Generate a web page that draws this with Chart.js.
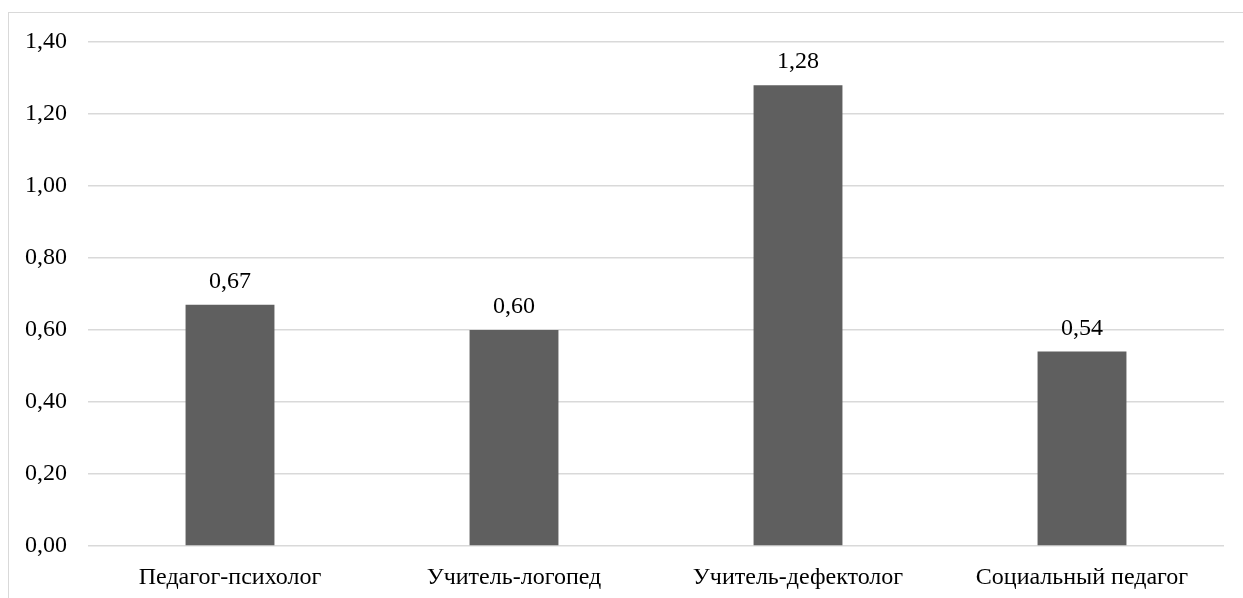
<!DOCTYPE html>
<html>
<head>
<meta charset="utf-8">
<script src="https://cdn.jsdelivr.net/npm/chart.js@4"></script>
<style>
  html, body { margin: 0; padding: 0; background: #fff; }
  #wrap { position: relative; width: 1243px; height: 598px; overflow: hidden; }
  #frame { position: absolute; left: 8px; top: 12px; width: 1400px; height: 700px; border-left: 1.5px solid #d9d9d9; border-top: 1.5px solid #d9d9d9; }
  canvas { position: absolute; left: 0; top: 0; }
</style>
</head>
<body>
<div id="wrap">
  <div id="frame"></div>
  <canvas id="c" width="1243" height="598"></canvas>
</div>
<script>
const categories = ["Педагог-психолог", "Учитель-логопед", "Учитель-дефектолог", "Социальный педагог"];
const values = [0.67, 0.60, 1.28, 0.54];
const yMin = 0, yMax = 1.4, yStep = 0.2;

const fmt = v => v.toFixed(2).replace('.', ',');
const FONT = "'Liberation Serif', 'Times New Roman', serif";

const valueLabels = {
  id: 'valueLabels',
  afterDatasetsDraw(chart) {
    const ctx = chart.ctx;
    const meta = chart.getDatasetMeta(0);
    ctx.save();
    ctx.font = "24px " + FONT;
    ctx.fillStyle = '#000';
    ctx.textAlign = 'center';
    ctx.textBaseline = 'alphabetic';
    meta.data.forEach((bar, i) => {
      ctx.fillText(fmt(values[i]), bar.x, bar.y - 17);
    });
    ctx.restore();
  }
};

new Chart(document.getElementById('c'), {
  type: 'bar',
  data: {
    labels: categories,
    datasets: [{
      data: values,
      backgroundColor: '#5f5f5f',
      borderWidth: 0,
      categoryPercentage: 1,
      barPercentage: 0.313
    }]
  },
  options: {
    responsive: false,
    animation: false,
    devicePixelRatio: 1,
    layout: { padding: { left: 0, right: 19, top: 42, bottom: 0 } },
    plugins: { legend: { display: false }, tooltip: { enabled: false } },
    scales: {
      x: {
        grid: { display: false },
        border: { display: false },
        ticks: { color: '#000', font: { family: FONT, size: 24 }, padding: 9, maxRotation: 0 },
        afterFit(s) { s.height = 52; }
      },
      y: {
        min: yMin, max: yMax,
        grid: { color: '#d9d9d9', lineWidth: 1.5, drawTicks: false },
        border: { display: false },
        ticks: { stepSize: yStep, color: '#000', font: { family: FONT, size: 24 }, padding: 21, callback: v => fmt(v) },
        afterFit(s) { s.width = 88; }
      }
    }
  },
  plugins: [valueLabels]
});
</script>
</body>
</html>
